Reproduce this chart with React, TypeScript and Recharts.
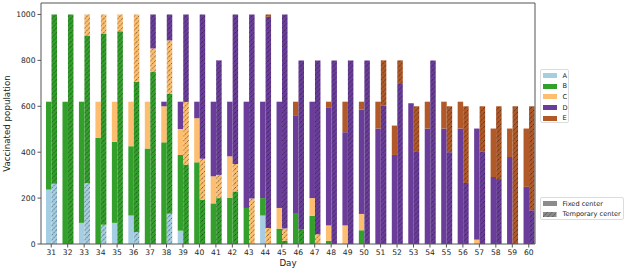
import { BarChart, Bar, XAxis, YAxis, Legend } from 'recharts'

const FONT = '"DejaVu Sans", sans-serif'

const days = [31, 32, 33, 34, 35, 36, 37, 38, 39, 40, 41, 42, 43, 44, 45, 46, 47, 48, 49, 50, 51, 52, 53, 54, 55, 56, 57, 58, 59, 60]
const groups = ['A', 'B', 'C', 'D', 'E']
const colors = ['#a6cee3', '#33a02c', '#fdbf6f', '#6a3d9a', '#b15928']
const yTicks = [0, 200, 400, 600, 800, 1000]

// fixed centers (solid bars)
const fixedA = [237, 0, 92, 0, 92, 124, 0, 0, 58, 0, 0, 0, 0, 124, 0, 0, 0, 0, 0, 0, 0, 0, 0, 0, 0, 0, 0, 0, 0, 0]
const fixedB = [383, 620, 528, 462, 353, 302, 416, 443, 330, 356, 177, 202, 157, 76, 67, 135, 123, 14, 0, 60, 0, 0, 0, 0, 0, 0, 0, 0, 0, 0]
const fixedC = [0, 0, 0, 158, 175, 194, 204, 157, 113, 192, 118, 180, 0, 0, 90, 0, 77, 67, 81, 71, 0, 0, 0, 0, 0, 0, 19, 0, 0, 0]
const fixedD = [0, 0, 0, 0, 0, 0, 0, 20, 119, 72, 325, 238, 463, 420, 463, 426, 420, 512, 406, 455, 503, 388, 613, 503, 503, 503, 484, 292, 379, 249]
const fixedE = [0, 0, 0, 0, 0, 0, 0, 0, 0, 0, 0, 0, 0, 0, 0, 59, 0, 27, 133, 34, 117, 128, 0, 117, 117, 117, 0, 211, 124, 254]

// temporary centers (hatched bars)
const tempA = [262, 0, 266, 84, 0, 52, 0, 132, 0, 0, 0, 0, 0, 0, 0, 0, 0, 0, 0, 0, 0, 0, 0, 0, 0, 0, 0, 0, 0, 0]
const tempB = [738, 1000, 642, 833, 927, 654, 749, 523, 346, 193, 200, 229, 0, 0, 14, 65, 0, 0, 0, 0, 0, 0, 0, 0, 0, 0, 0, 0, 0, 0]
const tempC = [0, 0, 92, 83, 73, 294, 103, 232, 273, 178, 101, 120, 198, 70, 53, 0, 43, 0, 0, 0, 0, 0, 0, 0, 0, 0, 0, 0, 0, 0]
const tempD = [0, 0, 0, 0, 0, 0, 148, 113, 381, 629, 499, 651, 802, 920, 933, 735, 757, 800, 800, 800, 603, 697, 401, 800, 400, 266, 404, 283, 0, 147]
const tempE = [0, 0, 0, 0, 0, 0, 0, 0, 0, 0, 0, 0, 0, 10, 0, 0, 0, 0, 0, 0, 197, 103, 199, 0, 200, 334, 196, 317, 600, 453]

const fixedSeries = [fixedA, fixedB, fixedC, fixedD, fixedE]
const tempSeries = [tempA, tempB, tempC, tempD, tempE]

const data = days.map((day, i) => {
  const row: Record<string, number> = { day }
  groups.forEach((g, k) => {
    row['f' + g] = fixedSeries[k][i]
    row['t' + g] = tempSeries[k][i]
  })
  return row
})

const H = 4.7
const hatchFills = [...colors, '#8c8c8c']

function Hatch({ color, id }: { color: string; id: string }) {
  return (
    <pattern id={id} patternUnits="userSpaceOnUse" width={H} height={H}>
      <rect width={H} height={H} fill={color} />
      <path
        d={`M0,${H} L${H},0 M-1,1 L1,-1 M${H - 1},${H + 1} L${H + 1},${H - 1}`}
        stroke="#111"
        strokeWidth={0.6}
        strokeDasharray="1.8 1"
      />
    </pattern>
  )
}

function YLabel({ viewBox }: any) {
  const cx = viewBox.x + 7
  const cy = viewBox.y + viewBox.height / 2
  return (
    <text x={cx} y={cy} transform={`rotate(-90 ${cx} ${cy})`} textAnchor="middle" dominantBaseline="central"
      fontSize={8.7} fill="#222" fontFamily={FONT}>
      Vaccinated population
    </text>
  )
}

const boxStyle: React.CSSProperties = {
  position: 'absolute',
  left: 0,
  background: '#fff',
  border: '1px solid #dcdcdc',
  borderRadius: 2,
  boxSizing: 'border-box',
}

function LegendRow({ swatch, label }: { swatch: React.ReactNode; label: string }) {
  return (
    <div style={{ display: 'flex', alignItems: 'center', height: 10.6, paddingLeft: 2 }}>
      {swatch}
      <span style={{ marginLeft: 6, whiteSpace: 'nowrap' }}>{label}</span>
    </div>
  )
}

function LegendBoxes() {
  return (
    <div style={{ position: 'relative', width: 85, height: 152, fontFamily: FONT, fontSize: 6.6, color: '#222' }}>
      <div style={{ ...boxStyle, top: 0, width: 29, height: 54, paddingTop: 0.5 }}>
        {groups.map((g, k) => (
          <LegendRow key={g} label={g}
            swatch={<div style={{ width: 13.5, height: 5, background: colors[k] }} />} />
        ))}
      </div>
      <div style={{ ...boxStyle, top: 128, width: 84, height: 23, paddingTop: 0.5 }}>
        <LegendRow label="Fixed center" swatch={<div style={{ width: 13.5, height: 5, background: '#8c8c8c' }} />} />
        <LegendRow label="Temporary center"
          swatch={<svg width={13.5} height={5} style={{ display: 'block' }}><rect width={13.5} height={5} fill="url(#hatch-5)" /></svg>} />
      </div>
    </div>
  )
}

export default function App() {
  return (
    <div style={{ position: 'absolute', left: 0, top: 0, width: 627, height: 271, background: '#fff' }}>
      <BarChart width={627} height={271} data={data} margin={{ top: 2, right: 91, bottom: 0, left: 0 }}
        barSize={5.5} barGap={0} style={{ fontFamily: FONT }}>
        <defs>
          {hatchFills.map((c, k) => <Hatch key={k} id={`hatch-${k}`} color={c} />)}
        </defs>
        <XAxis dataKey="day" type="category" interval={0} padding={{ left: 2, right: -2 }}
          tickSize={3.5} tickLine={{ stroke: '#555' }} axisLine={{ stroke: '#555' }} height={27}
          tick={{ fontSize: 7.6, fill: '#262626', fontFamily: FONT }}
          label={{ value: 'Day', position: 'insideBottom', offset: 5, fontSize: 8.7, fill: '#222', fontFamily: FONT }} />
        <XAxis xAxisId="top" dataKey="day" orientation="top" height={1} tick={false} tickLine={false}
          axisLine={{ stroke: '#555' }} />
        <YAxis domain={[0, 1050]} ticks={yTicks} width={41} tickSize={3.5} allowDataOverflow
          tickLine={{ stroke: '#555' }} axisLine={{ stroke: '#555' }}
          tick={{ fontSize: 7.6, fill: '#262626', fontFamily: FONT }}
          label={<YLabel />} />
        <YAxis yAxisId="right" orientation="right" domain={[0, 1050]} width={1} tick={false} tickLine={false}
          axisLine={{ stroke: '#555' }} />
        {groups.map((g, k) => (
          <Bar key={'f' + g} dataKey={'f' + g} name={g} stackId="fixed" fill={colors[k]} isAnimationActive={false} />
        ))}
        {groups.map((g, k) => (
          <Bar key={'t' + g} dataKey={'t' + g} name={g} stackId="temp" fill={`url(#hatch-${k})`} isAnimationActive={false} />
        ))}
        <Legend layout="vertical" align="center" verticalAlign="middle" content={<LegendBoxes />}
          wrapperStyle={{ left: 540, top: 69, width: 85, height: 152 }} />
      </BarChart>
    </div>
  )
}
